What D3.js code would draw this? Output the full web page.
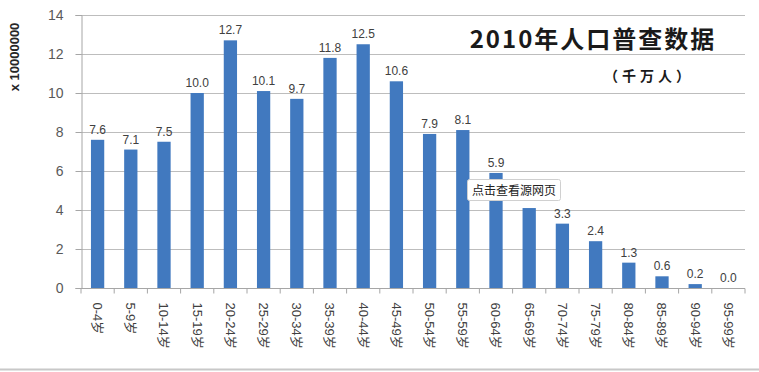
<!DOCTYPE html>
<html><head><meta charset="utf-8">
<script src="https://cdn.jsdelivr.net/npm/d3@7"></script>
<style>body{margin:0;background:#fff;}svg{display:block;}</style>
</head><body>
<svg id="c" width="759" height="372"></svg>
<script>
const categories = ["0-4岁","5-9岁","10-14岁","15-19岁","20-24岁","25-29岁","30-34岁","35-39岁","40-44岁","45-49岁","50-54岁","55-59岁","60-64岁","65-69岁","70-74岁","75-79岁","80-84岁","85-89岁","90-94岁","95-99岁"];
const values = [7.6,7.1,7.5,10.0,12.7,10.1,9.7,11.8,12.5,10.6,7.9,8.1,5.9,4.1,3.3,2.4,1.3,0.6,0.2,0.0];
const hiddenLabels = ["65-69岁"]; // covered by the tooltip in the reference
const yTicks = [0,2,4,6,8,10,12,14];
const title = "2010年人口普查数据";
const subtitle = "（千万人）";
const yTitle = "x 10000000";
const tooltip = "点击查看源网页";

(function(){
const svg = d3.select("#c");
const font = "'Liberation Sans', Arial, 'Noto Sans CJK SC', sans-serif";
const pL = 81, pR = 745, pT = 15, pB = 288;
const x = d3.scaleBand().domain(categories).range([pL, pR]).paddingInner(0.6).paddingOuter(0.3);
const y = d3.scaleLinear().domain([0, 14]).range([pB, pT]);

// grid
svg.append("g").selectAll("line").data(yTicks.filter(d=>d>0)).join("line")
  .attr("x1", pL).attr("x2", pR).attr("y1", d=>y(d)+0.5).attr("y2", d=>y(d)+0.5)
  .attr("stroke", "#bdbdbd").attr("stroke-width", 1);

// y axis
const ya = svg.append("g").attr("transform", `translate(${pL}.5,0)`)
  .call(d3.axisLeft(y).tickValues(yTicks).tickSize(6).tickPadding(12));
ya.select(".domain").attr("stroke", "#a6a6a6");
ya.selectAll(".tick line").attr("stroke", "#a6a6a6");
ya.selectAll("text").attr("font-family", font).attr("font-size", 14).attr("fill", "#595959");

// bars
svg.append("g").selectAll("rect").data(values).join("rect")
  .attr("x", (d,i)=>x(categories[i])).attr("width", x.bandwidth())
  .attr("y", d=>y(d)).attr("height", d=>y(0)-y(d))
  .attr("fill", "#4179bf");

// x axis
const step = (pR - pL) / categories.length;
const xa = svg.append("g").attr("transform", `translate(0,${pB}.5)`);
xa.append("line").attr("x1", pL).attr("x2", pR).attr("stroke", "#a6a6a6");
xa.selectAll("line.t").data(d3.range(categories.length+1)).join("line").attr("class","t")
  .attr("x1", i=>pL + i*step).attr("x2", i=>pL + i*step).attr("y1", 0).attr("y2", 5)
  .attr("stroke", "#a6a6a6");
xa.selectAll("text").data(categories).join("text")
  .attr("transform", d=>`translate(${x(d)+x.bandwidth()/2},14) rotate(90)`)
  .attr("dy", "0.35em").attr("text-anchor", "start")
  .attr("font-family", font).attr("font-size", 13).attr("fill", "#404040")
  .text(d=>d);

// data labels
svg.append("g").selectAll("text").data(values).join("text")
  .attr("x", (d,i)=>x(categories[i])+x.bandwidth()/2).attr("y", d=>y(d)-6)
  .attr("text-anchor", "middle").attr("font-family", font).attr("font-size", 12)
  .attr("fill", "#404040")
  .text((d,i)=>hiddenLabels.includes(categories[i]) ? "" : d.toFixed(1));

// y title
svg.append("text").attr("transform", "translate(19,57) rotate(-90)")
  .attr("text-anchor", "middle").attr("font-family", font).attr("font-size", 13)
  .attr("font-weight", "bold").attr("fill", "#262626").text(yTitle);

// title
svg.append("text").attr("x", 593).attr("y", 48).attr("text-anchor", "middle")
  .attr("font-family", "'Noto Sans CJK SC', sans-serif").attr("font-size", 24)
  .attr("letter-spacing", 2)
  .attr("font-weight", "bold").attr("fill", "#1a1a1a").text(title);
svg.append("text").attr("x", 649).attr("y", 81).attr("text-anchor", "middle")
  .attr("font-family", "'Noto Sans CJK SC', sans-serif").attr("font-size", 14)
  .attr("letter-spacing", 4)
  .attr("font-weight", "bold").attr("fill", "#1a1a1a").text(subtitle);

// bottom frame line
svg.append("line").attr("x1", 0).attr("x2", 759).attr("y1", 369.5).attr("y2", 369.5)
  .attr("stroke", "#c8c8c8").attr("stroke-width", 2);

// tooltip
const tg = svg.append("g").attr("transform", "translate(467.5,179.5)");
tg.append("rect").attr("width", 93).attr("height", 21).attr("fill", "#fff")
  .attr("stroke", "#d0d0d0").attr("rx", 2);
tg.append("text").attr("x", 46.5).attr("y", 15).attr("text-anchor", "middle")
  .attr("font-family", "'Noto Sans CJK SC', sans-serif").attr("font-size", 12)
  .attr("fill", "#222").text(tooltip);
})();
</script>
</body></html>
